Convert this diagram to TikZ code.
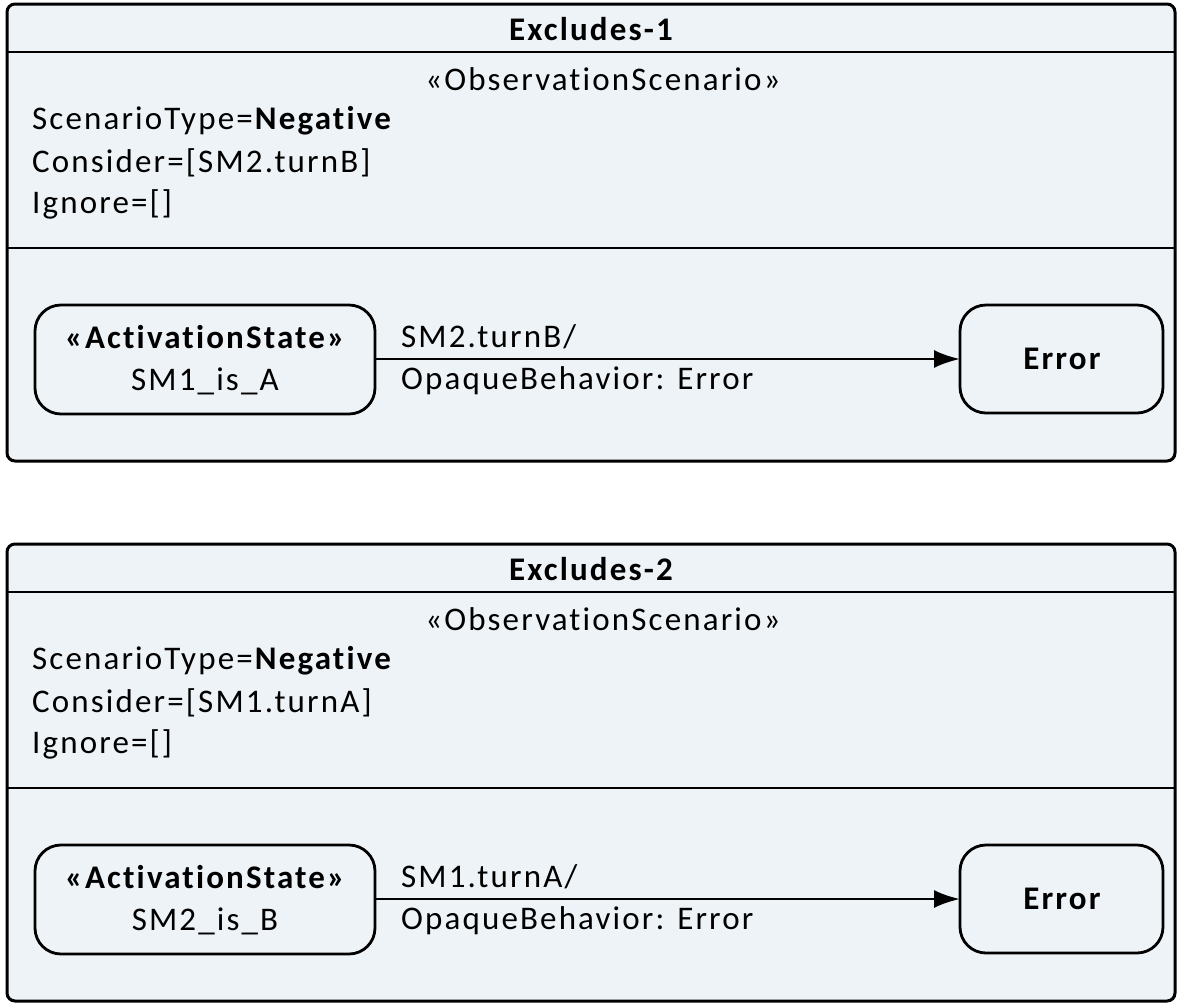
\documentclass[tikz,border=0pt]{standalone}
\usepackage{fontspec}
\setmainfont{Carlito}[Ligatures=NoCommon, LetterSpace=6.5]
\usetikzlibrary{arrows.meta}
\definecolor{panel}{HTML}{EEF3F7}
\tikzset{
  frame/.style={draw=black, line width=3pt, fill=panel, rounded corners=8pt},
  sep/.style={draw=black, line width=2.8pt},
  state/.style={draw=black, line width=2.8pt, rounded corners=26pt, fill=panel},
  txt/.style={font=\fontsize{33}{38}\selectfont, inner sep=0pt},
  btxt/.style={font=\fontsize{33}{38}\selectfont\bfseries, inner sep=0pt},
  trans/.style={draw=black, line width=2.8pt, -{Latex[length=26pt,width=18pt]}},
}
\begin{document}
\begin{tikzpicture}[x=1pt,y=-1pt]
\useasboundingbox (0,0) rectangle (1178,1005);
\foreach \oy/\title/\consider/\src/\lab in {0/Excludes-1/SM2.turnB/SM1\_is\_A/SM2.turnB,540/Excludes-2/SM1.turnA/SM2\_is\_B/SM1.turnA}{
  \begin{scope}[yshift=-\oy pt]
    \path[frame] (7,4) rectangle (1175,461);
    \draw[sep] (7,52) -- (1175,52);
    \draw[sep] (7,248) -- (1175,248);
    \node[btxt] (t) at (591,29) {\title};
    \node[txt] (st) at (603,79) {«ObservationScenario»};
    \node[txt, anchor=west] (p1) at (32,121) {ScenarioType=\textbf{Negative}};
    \node[txt, anchor=west] (p2) at (32,163) {Consider=[\consider]};
    \node[txt, anchor=west] (p3) at (32,204) {Ignore=[]};
    \path[state] (35,305) rectangle (375,414);
    \coordinate (srcE) at (375,359);
    \node[btxt] (s1) at (205,337) {«ActivationState»};
    \node[txt] (s2) at (205,381) {\src};
    \path[state] (960,305) rectangle (1163,413);
    \coordinate (errW) at (960,359);
    \node[btxt] (e) at (1062,359) {Error};
    \draw[trans] (srcE) -- (errW);
    \node[txt, anchor=west] (l1) at (401,337) {\lab/};
    \node[txt, anchor=west] (l2) at (401,381) {OpaqueBehavior: Error};
  \end{scope}
}
\end{tikzpicture}
\end{document}
